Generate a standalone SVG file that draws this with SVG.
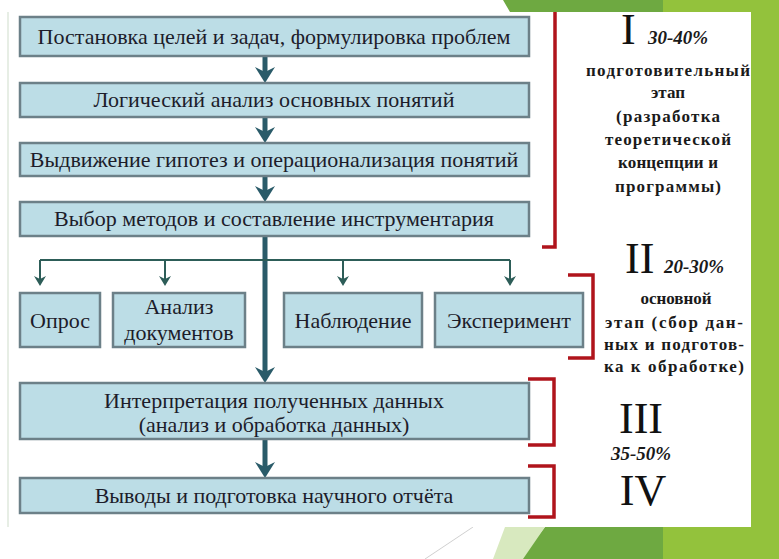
<svg xmlns="http://www.w3.org/2000/svg" width="779" height="559" viewBox="0 0 779 559">
<style>
.box{fill:#bcdde6;stroke:#6c8088;stroke-width:2.5}
.bt{font-family:"Liberation Serif","Liberation Sans",sans-serif;font-size:22px;fill:#1c1c2a;text-anchor:middle}
.rt{font-family:"Liberation Serif","Liberation Sans",sans-serif;font-size:17px;font-weight:bold;fill:#1a1a1a;text-anchor:middle}
.roman{font-family:"Liberation Serif",serif;font-size:44px;fill:#111}
.pct{font-family:"Liberation Serif",serif;font-size:19px;font-weight:bold;font-style:italic;fill:#1a1a1a}
.main{stroke:#2a5b69;stroke-width:5;fill:none;marker-end:url(#big)}
.thin{stroke:#2d5d58;stroke-width:2;fill:none}
.tarr{stroke:#2d5d58;stroke-width:2;fill:none;marker-end:url(#small)}
.br{stroke:#b0141c;stroke-width:3.5;fill:none}
</style>
<defs>
<marker id="big" markerUnits="userSpaceOnUse" viewBox="0 0 16 20" markerWidth="16" markerHeight="20" refX="5" refY="10" orient="auto">
<path d="M0,0 L16,10 L0,20 L5,10 z" fill="#2a5b69"/>
</marker>
<marker id="small" markerUnits="userSpaceOnUse" viewBox="0 0 10 12" markerWidth="10" markerHeight="12" refX="3" refY="6" orient="auto">
<path d="M0,0 L10,6 L0,12 L3,6 z" fill="#2d5d58"/>
</marker>
</defs>
<g id="background">
<rect x="0" y="0" width="779" height="559" fill="#ffffff"/>
<polygon points="503,0 663,0 663,559 520,559 545,527 751,527 751,12 510,12" fill="#6ea941"/>
<polygon points="663,0 779,0 779,559 663,559" fill="#93c23c"/>
<polygon points="505,527 545,527 523,559 493,559" fill="#d8e9bf"/>
<line x1="425" y1="559" x2="473" y2="527" stroke="#d0d0d0" stroke-width="1"/>
<rect x="8" y="12" width="743" height="515" fill="#ffffff"/>
<line x1="8" y1="12" x2="8" y2="527" stroke="#dfe8dc" stroke-width="1.5"/>
</g>
<g id="connectors">
<line class="main" x1="265" y1="57" x2="265" y2="72"/>
<line class="main" x1="265" y1="118" x2="265" y2="132"/>
<line class="main" x1="265" y1="177" x2="265" y2="191"/>
<line class="main" x1="265" y1="237" x2="265" y2="372"/>
<line class="main" x1="265" y1="440" x2="265" y2="467"/>
<line class="thin" x1="40" y1="260" x2="510" y2="260"/>
<line class="tarr" x1="40" y1="260" x2="40" y2="279"/>
<line class="tarr" x1="165" y1="260" x2="165" y2="279"/>
<line class="tarr" x1="343" y1="260" x2="343" y2="279"/>
<line class="tarr" x1="510" y1="260" x2="510" y2="279"/>
</g>
<g id="n1"><rect class="box" x="20" y="17" width="509" height="39"/><text class="bt" x="274" y="44">Постановка целей и задач, формулировка проблем</text></g>
<g id="n2"><rect class="box" x="20" y="83" width="509" height="34"/><text class="bt" x="274" y="107">Логический анализ основных понятий</text></g>
<g id="n3"><rect class="box" x="20" y="143" width="509" height="33"/><text class="bt" x="274" y="167">Выдвижение гипотез и операционализация понятий</text></g>
<g id="n4"><rect class="box" x="20" y="202" width="509" height="34"/><text class="bt" x="274" y="226">Выбор методов и составление инструментария</text></g>
<g id="n5"><rect class="box" x="20" y="293" width="80" height="54"/><text class="bt" x="60" y="328">Опрос</text></g>
<g id="n6"><rect class="box" x="113" y="293" width="132" height="54"/><text class="bt" x="179" y="314">Анализ</text><text class="bt" x="179" y="340">документов</text></g>
<g id="n7"><rect class="box" x="284" y="293" width="138" height="54"/><text class="bt" x="353" y="328">Наблюдение</text></g>
<g id="n8"><rect class="box" x="435" y="293" width="148" height="54"/><text class="bt" x="509" y="328">Эксперимент</text></g>
<g id="n9"><rect class="box" x="20" y="383" width="509" height="56"/><text class="bt" x="274" y="408">Интерпретация полученных данных</text><text class="bt" x="274" y="432">(анализ и обработка данных)</text></g>
<g id="n10"><rect class="box" x="20" y="478" width="509" height="35"/><text class="bt" x="274" y="503">Выводы и подготовка научного отчёта</text></g>
<g id="brackets">
<polyline class="br" points="555,12 555,247 542,247"/>
<polyline class="br" points="568,275 593,275 593,358 568,358"/>
<polyline class="br" points="528,379 554,379 554,445 528,445"/>
<polyline class="br" points="528,466 554,466 554,517 528,517"/>
</g>
<g id="stage1">
<text class="roman" x="621" y="44">I</text>
<text class="pct" x="648" y="44">30-40%</text>
<text class="rt" x="668" y="76" textLength="164" lengthAdjust="spacing">подготовительный</text>
<text class="rt" x="668" y="98">этап</text>
<text class="rt" x="668" y="122" textLength="104" lengthAdjust="spacing">(разработка</text>
<text class="rt" x="668" y="145" textLength="126" lengthAdjust="spacing">теоретической</text>
<text class="rt" x="668" y="168" textLength="100" lengthAdjust="spacing">концепции и</text>
<text class="rt" x="668" y="192" textLength="106" lengthAdjust="spacing">программы)</text>
</g>
<g id="stage2">
<text class="roman" x="625" y="273">II</text>
<text class="pct" x="664" y="273">20-30%</text>
<text class="rt" x="676" y="304">основной</text>
<text class="rt" x="674" y="328" textLength="138" lengthAdjust="spacing">этап (сбор дан-</text>
<text class="rt" x="674" y="350" textLength="140" lengthAdjust="spacing">ных и подготов-</text>
<text class="rt" x="674" y="372" textLength="140" lengthAdjust="spacing">ка к обработке)</text>
</g>
<g id="stage3">
<text class="roman" x="641" y="433" text-anchor="middle" font-size="40">III</text>
<text class="pct" x="641" y="460" text-anchor="middle">35-50%</text>
</g>
<g id="stage4">
<text class="roman" x="643" y="505" text-anchor="middle" font-size="42">IV</text>
</g>
</svg>
